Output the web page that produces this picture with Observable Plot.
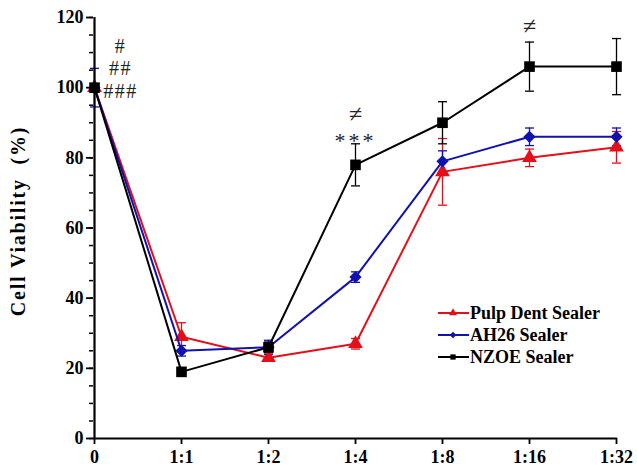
<!DOCTYPE html>
<html>
<head>
<meta charset="utf-8">
<script src="https://cdn.jsdelivr.net/npm/d3@7"></script>
<script src="https://cdn.jsdelivr.net/npm/@observablehq/plot@0.6"></script>
<style>
  html, body { margin: 0; padding: 0; background: #fff; }
  #wrap { position: relative; width: 637px; height: 470px; }
  #legend { position: absolute; left: 436px; top: 302px; }
</style>
</head>
<body>
<div id="wrap"></div>
<script>
const categories = ["0", "1:1", "1:2", "1:4", "1:8", "1:16", "1:32"];
const seriesNames = ["Pulp Dent Sealer", "AH26 Sealer", "NZOE Sealer"];
const pulpDent    = [100, 29, 23, 27, 76, 80, 83];
const pulpDentErr = [0.5, 4, 1, 1.5, 9.5, 2.5, 4.5];
const ah26        = [100, 25, 26, 46, 79, 86, 86];
const ah26Err     = [5.5, 1.5, 2, 1.5, 3, 2.5, 2.5];
const nzoe        = [100, 19, 26, 78, 90, 106, 106];
const nzoeErr     = [0.5, 0.5, 1.5, 6, 6, 7, 8];
const yTicks = [0, 20, 40, 60, 80, 100, 120];
const hashNotes = [
  {x: "0", y: 111.6, text: "#"},
  {x: "0", y: 105.3, text: "##"},
  {x: "0", y: 99, text: "###"}
];
const neqNotes = [
  {x: "1:4", y: 92.3, text: "≠"},
  {x: "1:16", y: 117.5, text: "≠"}
];
const starNotes = [
  {x: "1:4", y: 85.5, text: "***"}
];

const colors = {"Pulp Dent Sealer": "#e3101a", "AH26 Sealer": "#1111b0", "NZOE Sealer": "#000000"};
const symbols = {"Pulp Dent Sealer": "triangle", "AH26 Sealer": "diamond2", "NZOE Sealer": "square"};

const allVals = [pulpDent, ah26, nzoe];
const allErr = [pulpDentErr, ah26Err, nzoeErr];
const rows = [];
seriesNames.forEach((s, si) => {
  categories.forEach((c, i) => {
    rows.push({series: s, x: c, y: allVals[si][i], lo: allVals[si][i] - allErr[si][i], hi: allVals[si][i] + allErr[si][i]});
  });
});

const cap = {
  draw(context, size) {
    const w = Math.sqrt(size / Math.PI);
    context.moveTo(-w, 0);
    context.lineTo(w, 0);
  }
};

const serif = "'Liberation Serif', 'Times New Roman', serif";

const marks = [];
marks.push(Plot.axisY({ticks: d3.range(0, 121, 5), tickSize: 4, text: null, strokeWidth: 1.5}));
marks.push(Plot.axisY({ticks: yTicks, tickSize: 7, tickPadding: 3, strokeWidth: 1.8, fontSize: 18, fontWeight: "bold", label: null}));
marks.push(Plot.axisX({tickSize: 6, tickPadding: 6, strokeWidth: 1.8, fontSize: 18, fontWeight: "bold", label: null}));

seriesNames.forEach(s => {
  const d = rows.filter(r => r.series === s);
  const col = colors[s];
  marks.push(Plot.ruleX(d, {x: "x", y1: "lo", y2: "hi", stroke: col, strokeWidth: 1.3}));
  marks.push(Plot.dot(d, {x: "x", y: "lo", symbol: cap, r: 4.5, stroke: col, strokeWidth: 1.3, fill: "none"}));
  marks.push(Plot.dot(d, {x: "x", y: "hi", symbol: cap, r: 4.5, stroke: col, strokeWidth: 1.3, fill: "none"}));
});
seriesNames.forEach(s => {
  const d = rows.filter(r => r.series === s);
  const col = colors[s];
  marks.push(Plot.line(d, {x: "x", y: "y", stroke: col, strokeWidth: 2}));
  marks.push(Plot.dot(d, {x: "x", y: "y", symbol: symbols[s], r: s === "NZOE Sealer" ? 6 : 5.5, fill: col, stroke: "none"}));
});

marks.push(Plot.ruleY([0], {stroke: "#000", strokeWidth: 2.2}));
marks.push(Plot.ruleX(["0"], {stroke: "#000", strokeWidth: 2.2}));

marks.push(Plot.text(hashNotes, {x: "x", y: "y", text: "text", dx: 26, fontSize: 20, fontFamily: serif, fill: "#222", className: "spaced"}));
marks.push(Plot.text(neqNotes, {x: "x", y: "y", text: "text", fontSize: 24, fontFamily: serif, fill: "#222"}));
marks.push(Plot.text(starNotes, {x: "x", y: "y", text: "text", dy: 2, fontSize: 22, fontFamily: serif, fill: "#222", className: "stars"}));

marks.push(Plot.text(["Cell Viability  (%)"], {frameAnchor: "left", textAnchor: "middle", dx: -75, dy: -7, rotate: -90, fontSize: 20, fontWeight: "bold", fontFamily: serif, fill: "#000", className: "ylab"}));

const chart = Plot.plot({
  width: 637,
  height: 470,
  marginLeft: 93,
  marginRight: 20,
  marginTop: 17,
  marginBottom: 32,
  style: {fontFamily: serif, background: "#fff", color: "#000"},
  x: {type: "point", domain: categories, padding: 0},
  y: {domain: [0, 120]},
  marks
});
document.getElementById("wrap").appendChild(chart);
chart.querySelectorAll(".ylab text").forEach(t => t.setAttribute("letter-spacing", "1.8"));
chart.querySelectorAll(".spaced text").forEach(t => t.setAttribute("letter-spacing", "1.5"));
chart.querySelectorAll(".stars text").forEach(t => t.setAttribute("letter-spacing", "3"));

// legend
const legend = d3.select("#wrap").append("svg").attr("id", "legend").attr("width", 200).attr("height", 66);
const symMap = {triangle: d3.symbolTriangle, diamond2: d3.symbolDiamond2, square: d3.symbolSquare};
seriesNames.forEach((s, i) => {
  const y = 11 + i * 22;
  const g = legend.append("g").attr("transform", `translate(0,${y})`);
  g.append("line").attr("x1", 2).attr("x2", 33).attr("y1", 0).attr("y2", 0).attr("stroke", colors[s]).attr("stroke-width", 2);
  g.append("path").attr("transform", "translate(17,0)").attr("d", d3.symbol(symMap[symbols[s]], 28)()).attr("fill", colors[s]);
  g.append("text").attr("x", 34).attr("y", 6).text(s)
    .attr("font-family", serif).attr("font-weight", "bold").attr("font-size", 18).attr("fill", "#000");
});
</script>
</body>
</html>
